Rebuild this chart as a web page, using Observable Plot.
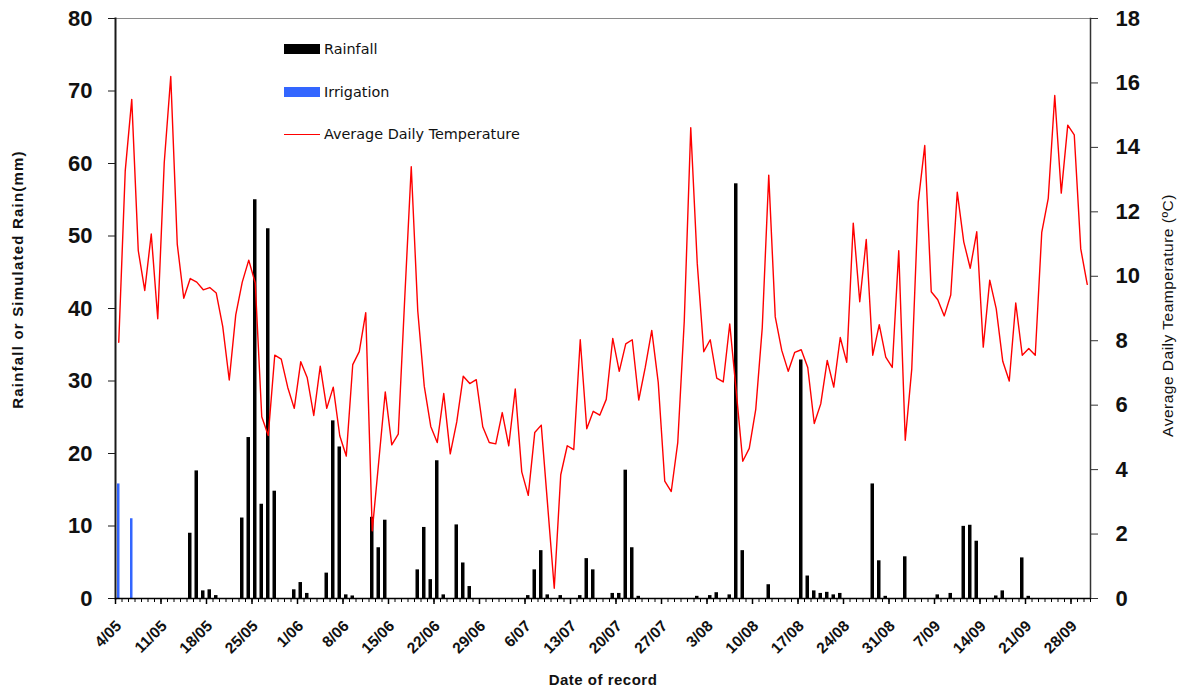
<!DOCTYPE html>
<html>
<head>
<meta charset="utf-8">
<script src="https://cdn.jsdelivr.net/npm/d3@7"></script>
<script src="https://cdn.jsdelivr.net/npm/@observablehq/plot@0.6"></script>
<style>
  html, body { margin: 0; padding: 0; background: #fff; }
  #chart { position: relative; width: 1183px; height: 693px; }
  #chart svg { overflow: visible; }
  .legend { position: absolute; left: 284px; top: 0; font-family: "DejaVu Sans", sans-serif; font-size: 14.4px; color: #111; }
  .legend .item { position: absolute; left: 0; display: flex; align-items: center; white-space: nowrap; transform: translateY(-50%); }
  .legend .swatch { width: 36px; margin-right: 4px; }
</style>
</head>
<body>
<div id="chart"></div>
<script>
// Daily records, 4 May to 30 September
const firstDay = new Date(Date.UTC(2010, 4, 4));
const lastDay = new Date(Date.UTC(2010, 9, 1));
const days = d3.utcDay.range(firstDay, lastDay);

// Rainfall (mm)
const rainfall = [
  0, 0, 0, 0, 0, 0, 0, 0, 0, 0,
  0, 9.0, 17.6, 1.05, 1.2, 0.4, 0, 0, 0, 11.1,
  22.2, 55.0, 13.0, 51.0, 14.8, 0, 0, 1.2, 2.2, 0.7,
  0, 0, 3.5, 24.5, 20.9, 0.5, 0.35, 0, 0, 11.2,
  7.0, 10.8, 0, 0, 0, 0, 3.95, 9.8, 2.6, 19.0,
  0.5, 0, 10.15, 4.9, 1.65, 0, 0, 0, 0, 0,
  0, 0, 0, 0.4, 3.95, 6.6, 0.5, 0, 0.4, 0,
  0, 0.4, 5.5, 3.95, 0, 0, 0.7, 0.7, 17.7, 7.0,
  0.3, 0, 0, 0, 0, 0, 0, 0, 0, 0.3,
  0, 0.4, 0.8, 0, 0.5, 57.2, 6.6, 0, 0, 0,
  1.9, 0, 0, 0, 0, 32.9, 3.1, 1.05, 0.7, 0.85,
  0.5, 0.7, 0, 0, 0, 0, 15.8, 5.2, 0.3, 0,
  0, 5.75, 0, 0, 0, 0, 0.5, 0, 0.7, 0,
  9.95, 10.1, 7.9, 0, 0, 0.35, 1.05, 0, 0, 5.6,
  0.3, 0, 0, 0, 0, 0, 0, 0, 0, 0
];

// Irrigation / simulated rain (mm)
const irrigation = [
  15.8, 0, 11.0, 0, 0, 0, 0, 0, 0, 0,
  0, 0, 0, 0, 0, 0, 0, 0, 0, 0,
  0, 0, 0, 0, 0, 0, 0, 0, 0, 0,
  0, 0, 0, 0, 0, 0, 0, 0, 0, 0,
  0, 0, 0, 0, 0, 0, 0, 0, 0, 0,
  0, 0, 0, 0, 0, 0, 0, 0, 0, 0,
  0, 0, 0, 0, 0, 0, 0, 0, 0, 0,
  0, 0, 0, 0, 0, 0, 0, 0, 0, 0,
  0, 0, 0, 0, 0, 0, 0, 0, 0, 0,
  0, 0, 0, 0, 0, 0, 0, 0, 0, 0,
  0, 0, 0, 0, 0, 0, 0, 0, 0, 0,
  0, 0, 0, 0, 0, 0, 0, 0, 0, 0,
  0, 0, 0, 0, 0, 0, 0, 0, 0, 0,
  0, 0, 0, 0, 0, 0, 0, 0, 0, 0,
  0, 0, 0, 0, 0, 0, 0, 0, 0, 0
];

// Average daily temperature (°C)
const temperature = [
  7.95, 13.28, 15.49, 10.8, 9.56, 11.31, 8.68, 13.53, 16.2, 11.0,
  9.32, 9.93, 9.82, 9.58, 9.65, 9.48, 8.44, 6.78, 8.8, 9.82,
  10.5, 9.79, 5.64, 5.06, 7.55, 7.43, 6.55, 5.9, 7.35, 6.85,
  5.68, 7.21, 5.9, 6.56, 5.05, 4.42, 7.26, 7.66, 8.87, 2.1,
  4.25, 6.41, 4.77, 5.1, 9.33, 13.4, 8.93, 6.59, 5.34, 4.84,
  6.36, 4.49, 5.48, 6.9, 6.67, 6.79, 5.33, 4.84, 4.8, 5.77,
  4.74, 6.5, 3.93, 3.2, 5.15, 5.38, 2.85, 0.32, 3.84, 4.74,
  4.62, 8.03, 5.27, 5.81, 5.69, 6.18, 8.07, 7.05, 7.9, 8.03,
  6.16, 7.17, 8.32, 6.7, 3.64, 3.32, 4.84, 8.6, 14.61, 10.4,
  7.66, 8.03, 6.84, 6.72, 8.52, 6.42, 4.26, 4.66, 5.87, 8.4,
  13.14, 8.74, 7.7, 7.05, 7.64, 7.72, 7.17, 5.43, 6.04, 7.39,
  6.56, 8.1, 7.33, 11.65, 9.21, 11.14, 7.55, 8.5, 7.49, 7.17,
  10.79, 4.91, 7.12, 12.3, 14.06, 9.52, 9.27, 8.77, 9.42, 12.61,
  11.07, 10.25, 11.38, 7.8, 9.88, 8.99, 7.36, 6.75, 9.17, 7.55,
  7.76, 7.55, 11.36, 12.42, 15.61, 12.58, 14.69, 14.39, 10.85, 9.75
];

// Weekly date labels
const dateLabels = [
  "4/05", "11/05", "18/05", "25/05", "1/06", "8/06", "15/06", "22/06",
  "29/06", "6/07", "13/07", "20/07", "27/07", "3/08", "10/08", "17/08",
  "24/08", "31/08", "7/09", "14/09", "21/09", "28/09"
];

// Axis tick values
const rainTicks = [0, 10, 20, 30, 40, 50, 60, 70, 80];
const tempTicks = [0, 2, 4, 6, 8, 10, 12, 14, 16, 18];

// Axis titles
const leftTitle = "Rainfall or Simulated Rain(mm)";
const bottomTitle = "Date of record";
const rightTitle = "Average Daily Teamperature (ºC)";

const rainMax = 80;
const tempMax = 18;
const toRainScale = t => t * rainMax / tempMax;

const rows = days.map((date, i) => ({
  date,
  mid: d3.utcHour.offset(date, 12),
  rain: rainfall[i],
  irr: irrigation[i],
  temp: temperature[i]
}));

const weekStarts = d3.range(0, days.length, 7).map(i => days[i]);
const weekMids = weekStarts.map(d => d3.utcHour.offset(d, 12));
const labelByTime = new Map(weekMids.map((d, i) => [+d, dateLabels[i]]));
const boundaries = d3.utcDay.range(firstDay, d3.utcDay.offset(lastDay, 1));

const sansFont = "'Liberation Sans', Arial, sans-serif";
const narrowFont = "'Liberation Sans Narrow', 'Arial Narrow', 'Liberation Sans', sans-serif";

const chart = Plot.plot({
  width: 1183,
  height: 693,
  marginLeft: 115,
  marginRight: 93,
  marginTop: 18,
  marginBottom: 95,
  style: { background: "#fff", fontFamily: sansFont, overflow: "visible" },
  x: { type: "utc", domain: [firstDay, lastDay], axis: null },
  y: { domain: [0, rainMax], axis: null },
  marks: [
    // plot border: top in grey, value axes in dark
    Plot.frame({ anchor: "top", stroke: "#8a8a8a", strokeWidth: 1.2 }),
    Plot.frame({ anchor: "left", stroke: "#1a1a1a", strokeWidth: 2 }),
    Plot.frame({ anchor: "right", stroke: "#333", strokeWidth: 1.5 }),

    // bars
    Plot.rectY(rows.filter(d => d.irr > 0), {
      x: "date", interval: d3.utcDay, y: "irr",
      fill: "#3366ff", insetLeft: 2, insetRight: 2
    }),
    Plot.rectY(rows.filter(d => d.rain > 0), {
      x: "date", interval: d3.utcDay, y: "rain",
      fill: "#000", insetLeft: 1.5, insetRight: 1.5
    }),

    // temperature on the secondary axis
    Plot.line(rows, {
      x: "mid", y: d => toRainScale(d.temp),
      stroke: "#ff0000", strokeWidth: 1.4
    }),

    Plot.ruleY([0], { stroke: "#000", strokeWidth: 1.5 }),

    // left axis: rainfall
    Plot.axisY(rainTicks, {
      anchor: "left", tickSize: 7, tickPadding: 16,
      fontSize: 22, fontWeight: "bold", label: null, stroke: "#1a1a1a", fill: "#111"
    }),
    // right axis: temperature
    Plot.axisY(tempTicks.map(toRainScale), {
      anchor: "right", tickSize: 7, tickPadding: 18,
      tickFormat: d => String(Math.round(d * tempMax / rainMax)),
      fontSize: 22, fontWeight: "bold", label: null, stroke: "#333", fill: "#111"
    }),

    // daily and weekly tick marks
    Plot.axisX(boundaries, {
      anchor: "bottom", tickSize: 4, tickFormat: () => "", label: null, stroke: "#000"
    }),
    Plot.axisX(weekStarts, {
      anchor: "bottom", tickSize: 6, tickFormat: () => "", label: null, stroke: "#000", strokeWidth: 1.5
    }),
    // weekly date labels
    Plot.axisX(weekMids, {
      anchor: "bottom", tickSize: 0, tickPadding: 25, tickRotate: -45,
      tickFormat: d => labelByTime.get(+d),
      fontSize: 15.5, fontWeight: "bold", label: null, fill: "#111"
    }),

    // axis titles
    Plot.text([leftTitle], {
      frameAnchor: "left", dx: -97, dy: -29, rotate: -90, textAnchor: "middle",
      fontSize: 15, fontWeight: "bold", fill: "#111"
    }),
    Plot.text([bottomTitle], {
      frameAnchor: "bottom", dy: 86, textAnchor: "middle",
      fontSize: 15, fontWeight: "bold", fill: "#111"
    }),
    Plot.text([rightTitle], {
      frameAnchor: "right", dx: 78, dy: 7, rotate: -90, textAnchor: "middle",
      fontSize: 15.5, fontFamily: narrowFont, fill: "#111"
    })
  ]
});

// the titles are set with a little extra tracking
const tracking = new Map([[leftTitle, "1.2px"], [bottomTitle, "0.5px"], [rightTitle, "0.5px"]]);
d3.select(chart).selectAll("text").each(function () {
  const t = tracking.get(this.textContent);
  if (t) this.setAttribute("letter-spacing", t);
});

const host = document.getElementById("chart");
host.appendChild(chart);

// legend inside the plot area
const legendItems = [
  { label: "Rainfall", kind: "bar", color: "#000", top: 49 },
  { label: "Irrigation", kind: "bar", color: "#3366ff", top: 92 },
  { label: "Average Daily Temperature", kind: "line", color: "#ff0000", top: 134 }
];
const legend = document.createElement("div");
legend.className = "legend";
for (const item of legendItems) {
  const row = document.createElement("div");
  row.className = "item";
  row.style.top = item.top + "px";
  const sw = document.createElement("span");
  sw.className = "swatch";
  if (item.kind === "bar") {
    sw.style.height = "10px";
    sw.style.background = item.color;
  } else {
    sw.style.height = "0";
    sw.style.borderTop = "1.5px solid " + item.color;
  }
  const tx = document.createElement("span");
  tx.textContent = item.label;
  row.appendChild(sw);
  row.appendChild(tx);
  legend.appendChild(row);
}
host.appendChild(legend);
</script>
</body>
</html>
